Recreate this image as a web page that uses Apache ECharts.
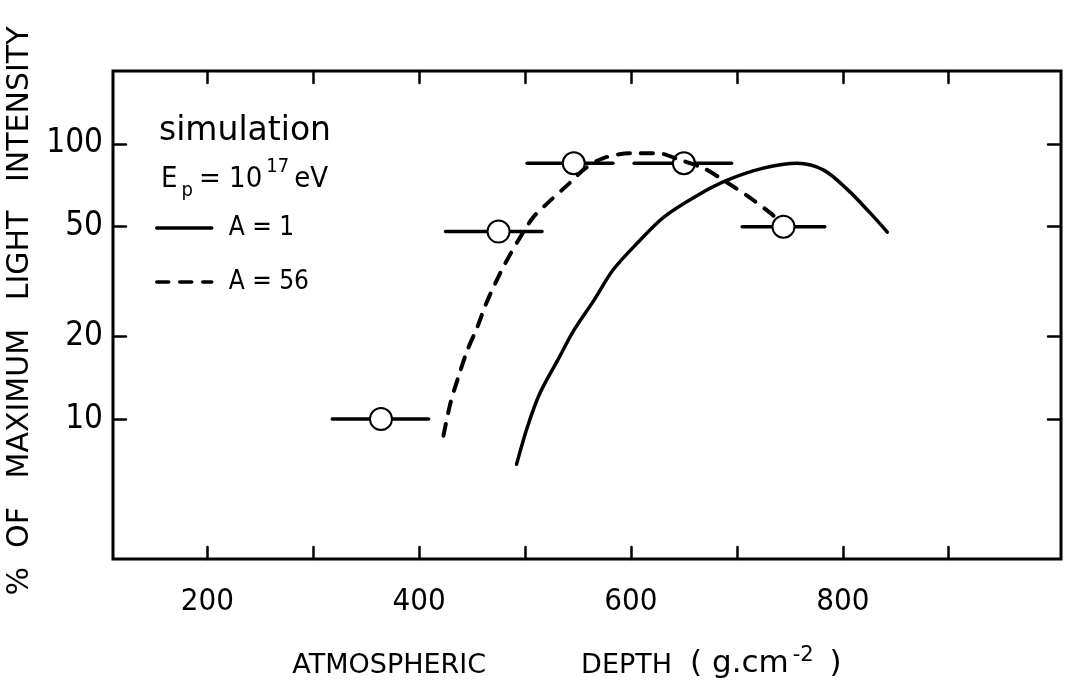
<!DOCTYPE html>
<html>
<head>
<meta charset="utf-8">
<script src="https://cdn.jsdelivr.net/npm/echarts@6/dist/echarts.min.js"></script>
<style>
  html, body { margin: 0; padding: 0; background: #fff; }
  #chart { width: 1069px; height: 687px; }
</style>
</head>
<body>
<div id="chart"></div>
<script>
// Depth axis (g/cm^2)
const depthMin = 111;
const depthMax = 1006;
const depthTicks = [200, 300, 400, 500, 600, 700, 800, 900];
const depthLabels = [200, 400, 600, 800];

// Intensity axis (% of maximum, logarithmic)
const intensityMin = 3.1;
const intensityMax = 184;
const intensityTicks = [10, 20, 50, 100];

// Simulated longitudinal profile, A = 1
const protonDepth = [492, 502, 514, 531, 546, 565, 583, 606, 631, 663, 691, 725, 757, 782, 805, 826, 842];
const protonIntensity = [6.85, 9.3, 12.4, 16.4, 21.0, 27.0, 34.8, 43.6, 54.2, 65.1, 73.8, 81.6, 85.0, 80.3, 67.9, 56.0, 47.8];

// Simulated longitudinal profile, A = 56
const ironDepth = [423, 429.5, 437, 445.6, 455, 462.6, 472, 481.5, 493.8, 507.9, 521.2, 540, 557.1, 574.1, 599.6, 625, 646.8, 668.5, 687.4, 712.9, 731.8, 739.4];
const ironIntensity = [8.7, 11.4, 14.2, 17.8, 21.6, 25.9, 31.2, 36.9, 44.7, 54.2, 60.9, 70.8, 81.6, 88.8, 92.5, 92.5, 87.3, 81.6, 73.8, 63.5, 56.0, 52.8];

// Measured points: depth, depth range, intensity
const obsDepth = [364, 475, 546, 650, 744];
const obsDepthLow = [318, 425, 502, 603, 705];
const obsDepthHigh = [409, 516, 583, 695, 783];
const obsIntensity = [10, 48, 85, 85, 50];

const FONT = 'DejaVu Sans';
const NARROW = "'Liberation Sans Narrow', 'DejaVu Sans Condensed', 'DejaVu Sans'";
const INK = '#000';

const logMin = Math.log10(intensityMin);
const logMax = Math.log10(intensityMax);
const logTicks = intensityTicks.map(v => Math.log10(v));

const zip = (xs, ys) => xs.map((x, i) => [x, ys[i]]);

const chart = echarts.init(document.getElementById('chart'), null, { renderer: 'canvas' });

const depthAxisBase = {
  type: 'value',
  min: depthMin,
  max: depthMax,
  axisLine: { show: false },
  splitLine: { show: false },
  axisTick: {
    show: true,
    inside: true,
    length: 12,
    customValues: depthTicks,
    lineStyle: { color: INK, width: 2.5, cap: 'round' }
  }
};

const tickAxisBase = {
  type: 'value',
  min: logMin,
  max: logMax,
  axisLine: { show: false },
  splitLine: { show: false },
  axisTick: {
    show: true,
    inside: true,
    length: 13,
    customValues: logTicks,
    lineStyle: { color: INK, width: 2.5, cap: 'round' }
  }
};

const txt = (size, extra) => Object.assign({
  fontFamily: NARROW, fontSize: size, fontWeight: 'normal', color: INK
}, extra || {});

chart.setOption({
  backgroundColor: '#fff',
  animation: false,
  grid: {
    left: 113, right: 8, top: 71, bottom: 128,
    show: true,
    borderColor: INK,
    borderWidth: 3,
    backgroundColor: 'transparent',
    outerBoundsMode: 'none'
  },
  title: [
    {
      text: 'simulation',
      left: 159, top: 115,
      padding: 0,
      textStyle: { fontFamily: FONT, fontSize: 33, fontWeight: 'normal', color: INK }
    },
    {
      text: '{e|E}{s|p}{e|= 10}{u|17}{e|eV}',
      left: 161, top: 157,
      padding: 0,
      textStyle: {
        fontWeight: 'normal',
        rich: {
          e: txt(29, { lineHeight: 44, verticalAlign: 'middle', padding: [0, 4, 0, 0] }),
          s: txt(20, { lineHeight: 44, verticalAlign: 'bottom', padding: [0, 6, 0, 0] }),
          u: txt(20, { lineHeight: 44, verticalAlign: 'top', padding: [0, 5, 0, 0] })
        }
      }
    }
  ],
  legend: {
    orient: 'vertical',
    left: 155, top: 215,
    padding: 0,
    itemWidth: 55,
    itemHeight: 14,
    itemGap: 28,
    selectedMode: false,
    itemStyle: { opacity: 0 },
    lineStyle: { width: 3.5 },
    data: ['A = 1', 'A = 56'],
    textStyle: txt(26, { lineHeight: 26, padding: [0, 0, 0, 12] })
  },
  xAxis: [
    Object.assign({}, depthAxisBase, {
      position: 'bottom',
      name: '{a|ATMOSPHERIC}{g| }{a|DEPTH}{h| }{b|( g.cm}{u|-2}{b| )}',
      nameLocation: 'middle',
      nameGap: 86,
      nameTextStyle: {
        padding: [0, 40, 0, 0],
        rich: {
          a: { fontFamily: FONT, fontSize: 27, color: INK, lineHeight: 34, verticalAlign: 'bottom' },
          b: { fontFamily: FONT, fontSize: 31, color: INK, lineHeight: 34, verticalAlign: 'bottom' },
          g: { width: 95, fontSize: 27, lineHeight: 34 },
          h: { width: 18, fontSize: 27, lineHeight: 34 },
          u: { fontFamily: FONT, fontSize: 21, color: INK, lineHeight: 34, verticalAlign: 'top', padding: [0, 6, 0, 4] }
        }
      },
      axisLabel: {
        show: true,
        customValues: depthLabels,
        margin: 27,
        fontFamily: NARROW,
        fontSize: 31,
        color: INK
      }
    }),
    Object.assign({}, depthAxisBase, {
      position: 'top',
      axisLabel: { show: false }
    })
  ],
  yAxis: [
    {
      type: 'log',
      logBase: 10,
      min: intensityMin,
      max: intensityMax,
      axisLine: { show: false },
      axisTick: { show: false },
      axisLabel: { show: false },
      splitLine: { show: false },
      minorTick: { show: false },
      minorSplitLine: { show: false }
    },
    Object.assign({}, tickAxisBase, {
      position: 'left',
      name: '%  OF   MAXIMUM   LIGHT   INTENSITY',
      nameLocation: 'middle',
      nameGap: 73,
      nameTextStyle: { fontFamily: FONT, fontSize: 30, color: INK, padding: [0, 0, 0, 8] },
      axisLabel: {
        show: true,
        customValues: logTicks,
        margin: 10,
        fontFamily: NARROW,
        fontSize: 33,
        color: INK,
        formatter: v => String(Math.round(Math.pow(10, v)))
      }
    }),
    Object.assign({}, tickAxisBase, {
      position: 'right',
      axisLabel: { show: false }
    })
  ],
  series: [
    {
      type: 'custom',
      name: 'data',
      xAxisIndex: 0,
      yAxisIndex: 0,
      z: 2,
      encode: { x: [0, 1, 2], y: 3 },
      data: obsDepth.map((d, i) => [d, obsDepthLow[i], obsDepthHigh[i], obsIntensity[i]]),
      renderItem: (params, api) => {
        const c = api.coord([api.value(0), api.value(3)]);
        const lo = api.coord([api.value(1), api.value(3)]);
        const hi = api.coord([api.value(2), api.value(3)]);
        return {
          type: 'group',
          children: [
            {
              type: 'line',
              shape: { x1: lo[0], y1: lo[1], x2: hi[0], y2: hi[1] },
              style: { stroke: INK, lineWidth: 3.5, lineCap: 'round' }
            },
            {
              type: 'circle',
              shape: { cx: c[0], cy: c[1], r: 11 },
              style: { fill: '#fff', stroke: INK, lineWidth: 2 }
            }
          ]
        };
      }
    },
    {
      type: 'line',
      name: 'A = 1',
      xAxisIndex: 0,
      yAxisIndex: 0,
      z: 3,
      data: zip(protonDepth, protonIntensity),
      smooth: 0.3,
      symbol: 'none',
      lineStyle: { color: INK, width: 3.5, cap: 'round' },
      itemStyle: { color: INK }
    },
    {
      type: 'line',
      name: 'A = 56',
      xAxisIndex: 0,
      yAxisIndex: 0,
      z: 3,
      data: zip(ironDepth, ironIntensity),
      smooth: 0.3,
      symbol: 'none',
      lineStyle: { color: INK, width: 4, type: [12, 11], cap: 'round' },
      itemStyle: { color: INK }
    }
  ]
});
</script>
</body>
</html>
